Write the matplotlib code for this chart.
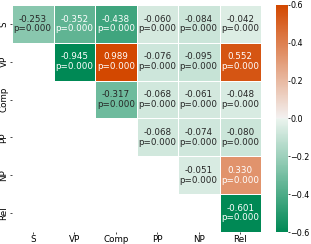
import numpy as np
import matplotlib
matplotlib.use("Agg")
import matplotlib.pyplot as plt
import seaborn as sns

labels = ["S", "VP", "Comp", "PP", "NP", "Rel"]
row_S = [-0.253, -0.352, -0.438, -0.060, -0.084, -0.042]
row_VP = [np.nan, -0.945, 0.989, -0.076, -0.095, 0.552]
row_Comp = [np.nan, np.nan, -0.317, -0.068, -0.061, -0.048]
row_PP = [np.nan, np.nan, np.nan, -0.068, -0.074, -0.080]
row_NP = [np.nan, np.nan, np.nan, np.nan, -0.051, 0.330]
row_Rel = [np.nan, np.nan, np.nan, np.nan, np.nan, -0.601]
pvals = "p=0.000"

data = np.array([row_S, row_VP, row_Comp, row_PP, row_NP, row_Rel])
mask = np.isnan(data)
annot = np.empty(data.shape, dtype=object)
for i in range(data.shape[0]):
    for j in range(data.shape[1]):
        annot[i, j] = "" if mask[i, j] else f"{data[i, j]:.3f}\n{pvals}"

plt.rcParams["font.family"] = ["DejaVu Sans"]
fig = plt.figure(figsize=(3.11, 2.44), dpi=100)
ax = fig.add_axes([12/311, 1 - 232/244, 249/311, 227/244])
cax = fig.add_axes([276/311, 1 - 232/244, 11.5/311, 227/244])
cmap = sns.diverging_palette(145, 20, s=100, l=50, as_cmap=True)
sns.heatmap(data, mask=mask, annot=annot, fmt="", cmap=cmap, vmin=-0.6, vmax=0.6,
            center=0, linewidths=0.4, linecolor="white", ax=ax, cbar_ax=cax,
            annot_kws={"fontsize": 6.3, "linespacing": 1.1},
            xticklabels=labels, yticklabels=labels)
ax.tick_params(axis="both", labelsize=6.3, length=1.5, width=0.5, pad=1)
ax.set_yticklabels(labels, rotation=90, va="center")
ax.set_xticklabels(labels, rotation=0)
cax.tick_params(labelsize=5.8, length=1.5, width=0.5, pad=0.5)
cax.set_yticks([-0.6, -0.4, -0.2, 0.0, 0.2, 0.4, 0.6])
for s in cax.spines.values():
    s.set_visible(False)
fig.savefig("out.png", dpi=100)
